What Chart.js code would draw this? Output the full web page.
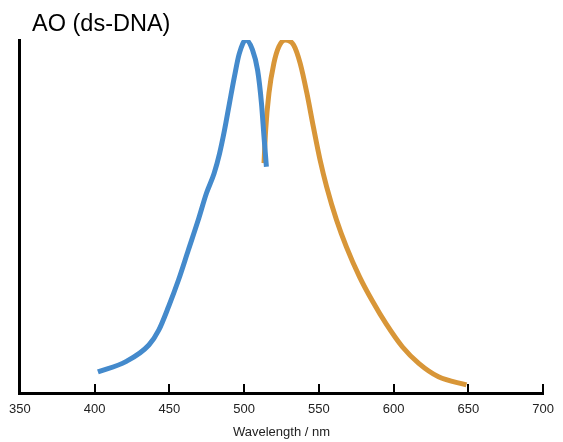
<!DOCTYPE html>
<html>
<head>
<meta charset="utf-8">
<script src="https://cdn.jsdelivr.net/npm/chart.js@4.4.0/dist/chart.umd.min.js"></script>
<style>
html,body{margin:0;padding:0;background:#fff;}
#wrap{width:563px;height:442px;position:relative;}
</style>
</head>
<body>
<div id="wrap"><canvas id="c" width="563" height="442"></canvas></div>
<script>
// Data (wavelength in nm, normalised intensity)
const blueWavelengths = [402.2, 420.9, 436.3, 442.9, 449.5, 456.1, 462.7, 469.3, 474.8, 479.9, 483.6, 486.9, 490.2, 493.5, 496.8, 501.2, 505.6, 509.0, 511.6, 513.3, 514.9];
const blueValues      = [0.060, 0.089, 0.136, 0.178, 0.245, 0.320, 0.405, 0.490, 0.566, 0.622, 0.679, 0.745, 0.821, 0.896, 0.962, 1.0, 0.972, 0.915, 0.821, 0.726, 0.641];
const orangeWavelengths = [513.3, 514.4, 516.6, 519.9, 523.2, 527.6, 533.1, 537.5, 542.0, 546.3, 550.8, 555.2, 561.8, 568.4, 577.2, 586.0, 594.8, 605.8, 616.8, 630.0, 648.7];
const orangeValues      = [0.651, 0.745, 0.849, 0.934, 0.981, 1.0, 0.986, 0.934, 0.849, 0.754, 0.660, 0.584, 0.490, 0.414, 0.329, 0.259, 0.197, 0.131, 0.084, 0.046, 0.023];
const xTicks = [350, 400, 450, 500, 550, 600, 650, 700];
const titleText = 'AO (ds-DNA)';
const xTitle = 'Wavelength / nm';

const toPts = (xs, ys) => xs.map((x, i) => ({x: x, y: ys[i]}));
const FONT = 'Liberation Sans, Arial, sans-serif';

const decor = {
  id: 'decor',
  afterDraw(chart) {
    const ctx = chart.ctx;
    const xs = chart.scales.x;
    const bottom = chart.chartArea.bottom;
    ctx.save();
    ctx.strokeStyle = '#000';
    ctx.lineWidth = 2;
    xTicks.forEach(v => {
      const px = Math.round(xs.getPixelForValue(v));
      ctx.beginPath();
      ctx.moveTo(px, bottom);
      ctx.lineTo(px, bottom - 9);
      ctx.stroke();
    });
    ctx.fillStyle = '#000';
    ctx.font = '23.5px ' + FONT;
    ctx.textBaseline = 'alphabetic';
    ctx.textAlign = 'left';
    ctx.fillText(titleText, 32, 31);
    ctx.restore();
  }
};

new Chart(document.getElementById('c'), {
  type: 'line',
  data: {
    datasets: [
      {data: toPts(blueWavelengths, blueValues), borderColor: 'rgb(68,138,204)', borderWidth: 5, pointRadius: 0, cubicInterpolationMode: 'monotone', fill: false},
      {data: toPts(orangeWavelengths, orangeValues), borderColor: 'rgb(216,150,56)', borderWidth: 5, pointRadius: 0, cubicInterpolationMode: 'monotone', fill: false}
    ]
  },
  options: {
    responsive: false,
    animation: false,
    layout: {padding: {left: 16, right: 17, top: 40, bottom: 0}},
    plugins: {
      legend: {display: false},
      tooltip: {enabled: false},
      title: {display: false}
    },
    scales: {
      x: {
        type: 'linear', min: 350, max: 700,
        afterBuildTicks: s => { s.ticks = xTicks.map(v => ({value: v})); },
        afterFit: s => { s.height = 49; },
        grid: {display: false, drawTicks: false},
        border: {display: true, color: '#000', width: 3},
        ticks: {color: '#222', padding: 9, font: {family: FONT, size: 13}, maxRotation: 0},
        title: {display: true, text: xTitle, color: '#222', padding: {top: 0, bottom: 2}, font: {family: FONT, size: 13}}
      },
      y: {
        min: 0, max: 1,
        afterFit: s => { s.width = 0; },
        grid: {display: false, drawTicks: false},
        border: {display: true, color: '#000', width: 3},
        ticks: {display: false}
      }
    }
  },
  plugins: [decor]
});
</script>
</body>
</html>
